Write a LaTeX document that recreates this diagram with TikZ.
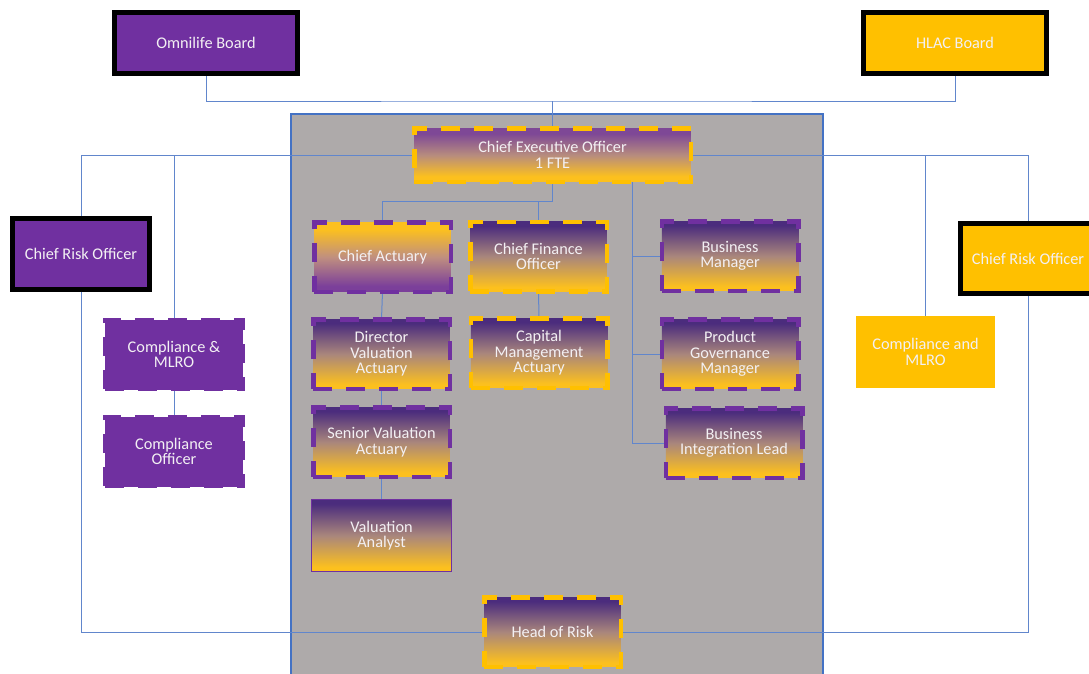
\documentclass[tikz,border=0pt]{standalone}
\usepackage{fontspec}
\setmainfont{Carlito}
\usetikzlibrary{backgrounds}

% colours
\definecolor{purp}{HTML}{7030A0}
\definecolor{yel}{HTML}{FFC000}
\definecolor{gtop}{HTML}{4B2C7D}
\definecolor{gmid}{HTML}{A9867C}
\definecolor{gyel}{HTML}{FCC01E}
\definecolor{ceotop}{HTML}{7E4896}
\definecolor{ceomid}{HTML}{B78C7E}
\definecolor{capur}{HTML}{7B3F9A}
\definecolor{camid}{HTML}{C08F7F}
\definecolor{panel}{HTML}{AEAAAA}
\definecolor{edge}{HTML}{4472C4}
\definecolor{linkc}{HTML}{6186CC}
\definecolor{txt}{HTML}{F3F0F3}

% vertical shadings: the node spans 25bp (bottom) to 75bp (top)
\pgfdeclareverticalshading{purpledown}{100bp}{color(0bp)=(gyel); color(28bp)=(gyel); color(50bp)=(gmid); color(72bp)=(gtop); color(100bp)=(gtop)}
\pgfdeclareverticalshading{ceoshade}{100bp}{color(0bp)=(gyel); color(30bp)=(gyel); color(50bp)=(ceomid); color(70bp)=(ceotop); color(100bp)=(ceotop)}
\pgfdeclareverticalshading{yellowdown}{100bp}{color(0bp)=(capur); color(29bp)=(capur); color(50bp)=(camid); color(70bp)=(gyel); color(100bp)=(gyel)}

\begin{document}
\begin{tikzpicture}[x=1pt,y=-1pt,
  every node/.style={inner sep=2pt, outer sep=0pt, align=center, text=txt,
    font=\fontsize{16.3}{15.5}\selectfont},
  board/.style={draw=black, line width=5pt},
  dashbox/.style={line width=4.5pt, dash pattern=on 19pt off 14pt},
  pbox/.style={dashbox, draw=purp, shading=purpledown, minimum width=136.5pt, minimum height=69.5pt},
  ybox/.style={dashbox, draw=yel, shading=purpledown, minimum width=136.5pt, minimum height=69.5pt},
  lilac/.style={fill=purp, draw=purp, line width=3.5pt, dash pattern=on 19pt off 14pt,
    minimum width=138pt, minimum height=70pt},
  link/.style={draw=linkc, line width=1pt}
]
\useasboundingbox (0,0) rectangle (1089,673);
\clip (0,0) rectangle (1089,673);

% boards and risk officers
\node[board, fill=purp, minimum width=183pt, minimum height=61pt] (omni) at (206,43) {Omnilife Board};
\node[board, fill=yel, minimum width=183pt, minimum height=61pt] (hlac) at (955,43) {HLAC Board};
\node[board, fill=purp, minimum width=137pt, minimum height=71pt] (crol) at (81,254) {Chief Risk Officer};
\node[board, fill=yel, minimum width=135pt, minimum height=70pt] (cror) at (1028,258.5) {Chief Risk Officer};

% executive team
\node[dashbox, draw=yel, shading=ceoshade, minimum width=276.5pt, minimum height=53.5pt] (ceo) at (552.5,155) {Chief Executive Officer\\1 FTE};
\node[dashbox, draw=purp, shading=yellowdown, minimum width=136.5pt, minimum height=69.5pt] (ca) at (382.5,257) {Chief Actuary};
\node[ybox] (cfo) at (538.5,256.5) {Chief Finance\\Officer};
\node[pbox] (dva) at (381.5,354) {Director\\Valuation\\Actuary};
\node[ybox] (cma) at (539,353) {Capital\\Management\\Actuary};
\node[pbox] (sva) at (381.5,442) {Senior Valuation\\Actuary};
\node[draw=purp, line width=1.5pt, shading=purpledown, minimum width=140pt, minimum height=72pt] (va) at (381.5,535.5) {Valuation\\Analyst};
\node[pbox] (bm) at (730,256) {Business\\Manager};
\node[pbox] (pgm) at (730,354) {Product\\Governance\\Manager};
\node[pbox] (bil) at (734,443) {Business\\Integration Lead};
\node[ybox] (hor) at (552.5,632) {Head of Risk};

% compliance
\node[lilac] (cml) at (174,354.5) {Compliance \&\\MLRO};
\node[lilac] (co) at (174,451.5) {Compliance\\Officer};
\node[fill=yel, minimum width=139pt, minimum height=72pt] (cmr) at (925.5,352) {Compliance and\\MLRO};

\begin{scope}[on background layer]
  % grey panel holding the executive team
  \filldraw[fill=panel, draw=edge, line width=1.3pt] (291,114) rectangle (823,690);

  % junction points
  \coordinate (bus) at (ceo.north |- 0,101);
  \coordinate (jl) at (cml.north |- ceo.west);
  \coordinate (jr) at (cmr.north |- ceo.east);
  \coordinate (jc) at (ceo.south |- 0,201);
  \coordinate (jo) at (632,182);

  % reporting lines
  \draw[link] (omni.south) |- (bus) -| (hlac.south);
  \draw[link] (bus) -- (ceo.north);
  \draw[link] (ceo.west) -| (crol.north);
  \draw[link] (jl) -- (cml.north);
  \draw[link] (crol.south) |- (hor.west);
  \draw[link] (ceo.east) -| (cror.north);
  \draw[link] (jr) -- (cmr.north);
  \draw[link] (cror.south) |- (hor.east);
  \draw[link] (ceo.south) -- (jc) -| (ca.north);
  \draw[link] (cfo.north |- jc) -- (cfo.north);
  \draw[link] (jo) |- (bil.west);
  \draw[link] (bm.west -| jo) -- (bm.west);
  \draw[link] (pgm.west -| jo) -- (pgm.west);
  \draw[link] (ca.south) -- (dva.north);
  \draw[link] (dva.south) -- (sva.north);
  \draw[link] (sva.south) -- (va.north);
  \draw[link] (cfo.south) -- (cma.north);
  \draw[link] (cml.south) -- (co.north);
\end{scope}
\end{tikzpicture}
\end{document}
